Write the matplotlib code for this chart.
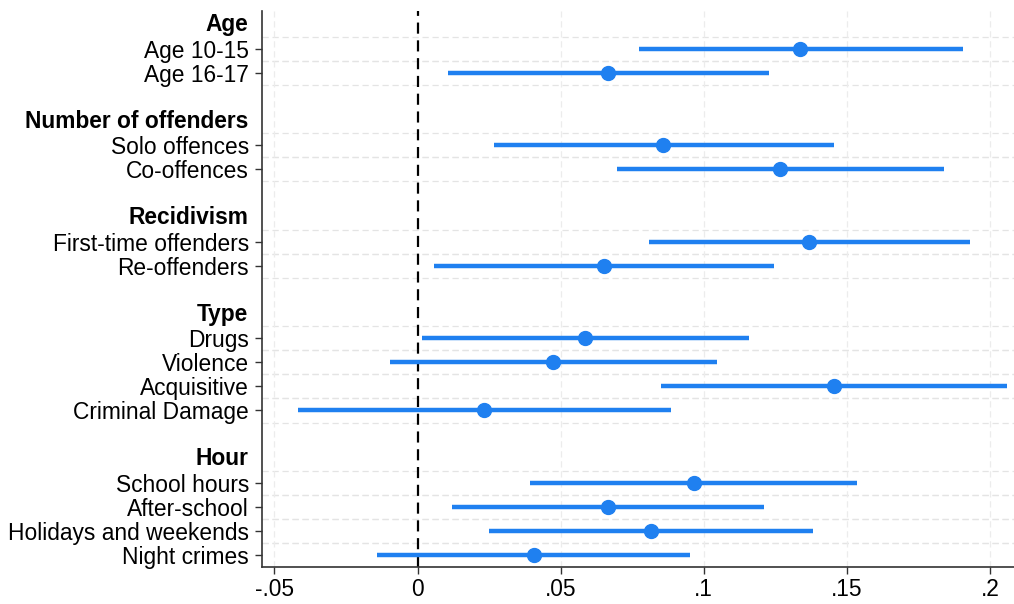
import matplotlib
matplotlib.use("Agg")
import matplotlib.pyplot as plt
import numpy as np

# groups and their items (header first, then item labels)
groups = ["Age", "Number of offenders", "Recidivism", "Type", "Hour"]
items = [
    ["Age 10-15", "Age 16-17"],
    ["Solo offences", "Co-offences"],
    ["First-time offenders", "Re-offenders"],
    ["Drugs", "Violence", "Acquisitive", "Criminal Damage"],
    ["School hours", "After-school", "Holidays and weekends", "Night crimes"],
]

# point estimates and 95% CIs, in item order
coef = [0.1338, 0.0667,
        0.0859, 0.1267,
        0.1369, 0.0650,
        0.0586, 0.0475, 0.1457, 0.0231,
        0.0966, 0.0664, 0.0817, 0.0406]
ci_low = [0.0774, 0.0107,
          0.0268, 0.0696,
          0.0808, 0.0056,
          0.0017, -0.0097, 0.0852, -0.0418,
          0.0392, 0.0119, 0.0250, -0.0141]
ci_high = [0.1907, 0.1228,
           0.1454, 0.1841,
           0.1932, 0.1245,
           0.1160, 0.1046, 0.2060, 0.0885,
           0.1537, 0.1212, 0.1382, 0.0951]

x_ticks = [-0.05, 0, 0.05, 0.1, 0.15, 0.2]
x_labels = ["-.05", "0", ".05", ".1", ".15", ".2"]

BLUE = "#1f80f0"
FS = 16.4

plt.rcParams["font.family"] = ["Liberation Sans", "DejaVu Sans"]

# build row positions: header, items, blank gap
head_pos, item_pos = [], []
row = 0
for g, its in zip(groups, items):
    head_pos.append(row)
    row += 1
    for _ in its:
        item_pos.append(row)
        row += 1
    row += 1
item_labels = [lab for its in items for lab in its]

fig = plt.figure(figsize=(10.14, 6.04), dpi=100)
ax = fig.add_axes([0.258, 0.061, 0.745, 0.92])

# light dashed grid lines around each item row
for y in item_pos:
    for yy in (y - 0.5, y + 0.5):
        ax.axhline(yy, color="#e4e4e4", lw=0.9, ls=(0, (5, 3)), zorder=0)
for xt in x_ticks:
    if xt != 0:
        ax.axvline(xt, color="#ececec", lw=0.9, ls=(0, (5, 3)), zorder=0)

ax.axvline(0, color="black", lw=1.6, ls=(0, (5, 3)), zorder=1)

ax.hlines(item_pos, ci_low, ci_high, color=BLUE, lw=3.2, zorder=2)
ax.plot(coef, item_pos, "o", color=BLUE, ms=10, zorder=3)

ax.set_xlim(-0.0545, 0.2095)
ax.set_ylim(row - 1.5, -0.55)

ax.set_xticks(x_ticks)
ax.set_xticklabels(x_labels, fontsize=FS)
ax.set_yticks(item_pos)
ax.set_yticklabels(item_labels, fontsize=FS)
ax.tick_params(axis="both", direction="out", length=5, width=1, color="#333333")
ax.tick_params(axis="y", pad=4)
ax.tick_params(axis="x", pad=3)

for yh, g in zip(head_pos, groups):
    ax.annotate(g, xy=(0, yh), xycoords=("axes fraction", "data"),
                xytext=(-9.5, 0), textcoords="offset points",
                ha="right", va="center", fontsize=FS, fontweight="bold")

for s in ("top", "right"):
    ax.spines[s].set_visible(False)
for s in ("left", "bottom"):
    ax.spines[s].set_color("#333333")
    ax.spines[s].set_linewidth(1.2)

fig.savefig("out.png", dpi=100)
